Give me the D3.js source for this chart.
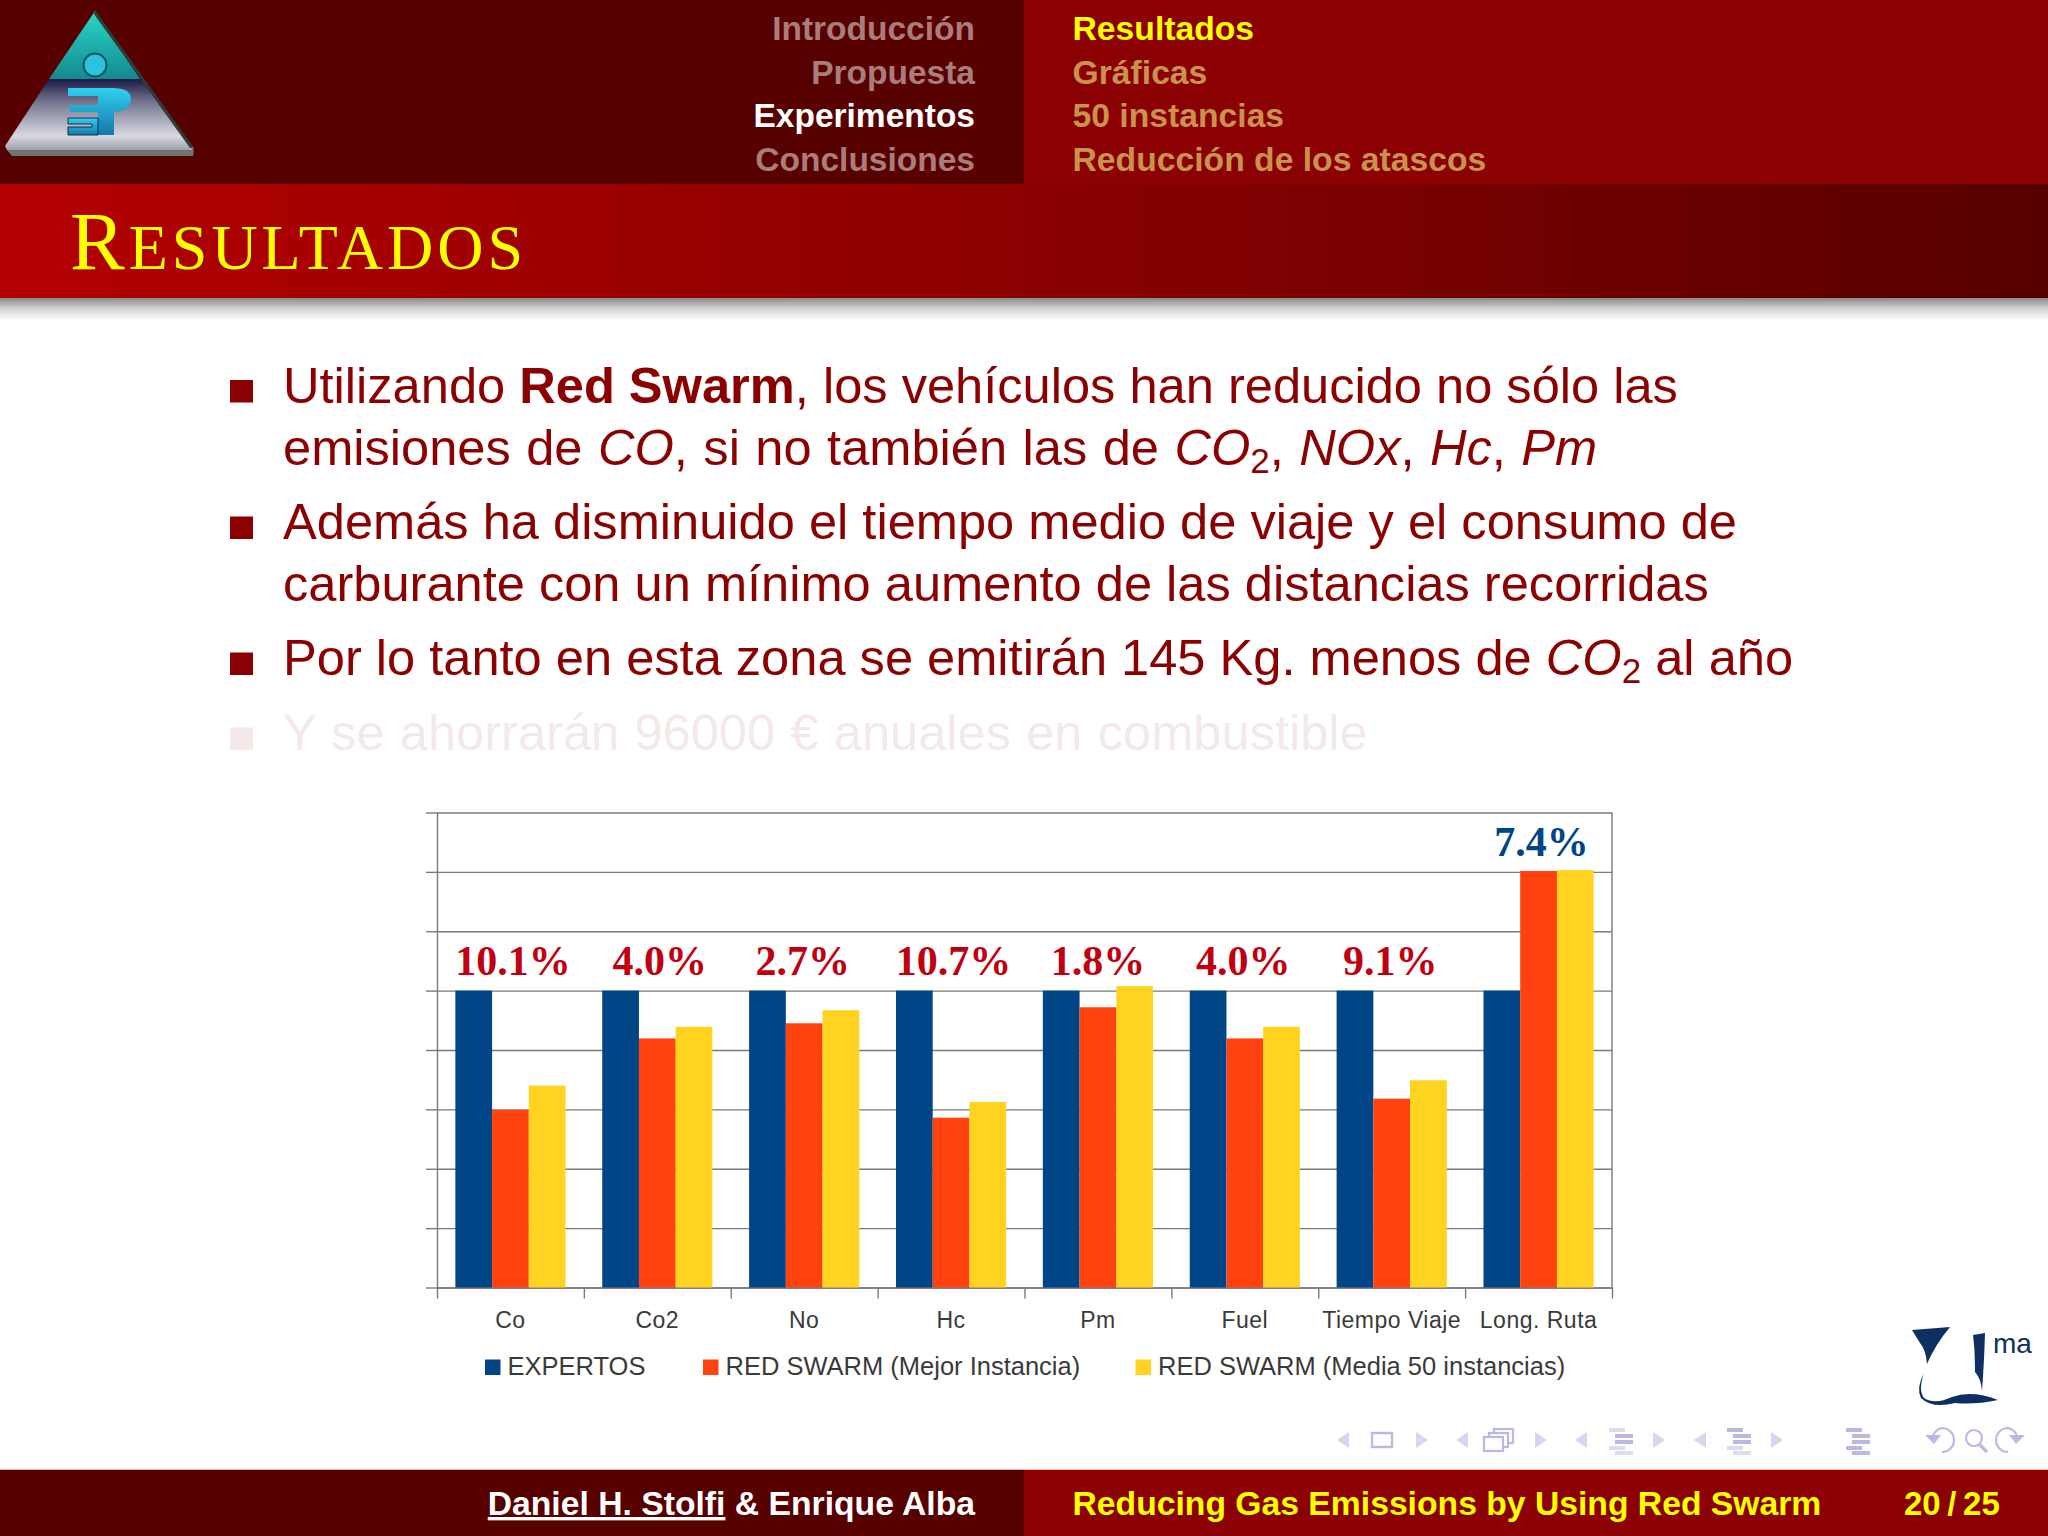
<!DOCTYPE html>
<html>
<head>
<meta charset="utf-8">
<title>Resultados</title>
<script src="https://cdn.jsdelivr.net/npm/d3@7"></script>
<style>
  html, body { margin: 0; padding: 0; background: #fff; }
  svg { display: block; }
  text { font-family: "Liberation Sans", sans-serif; }
</style>
</head>
<body>
<svg id="slide" width="2048" height="1536"></svg>
<script>
// chart data (EXPERTOS = 100)
const categories = ['Co', 'Co2', 'No', 'Hc', 'Pm', 'Fuel', 'Tiempo Viaje', 'Long. Ruta'];
const expertos = [100, 100, 100, 100, 100, 100, 100, 100];
const mejorInstancia = [59.8, 83.9, 89, 57.2, 94.4, 83.9, 63.6, 140.3];
const media50 = [68, 87.8, 93.4, 62.5, 101.5, 87.8, 69.8, 140.6];
const percentLabels = ['10.1%', '4.0%', '2.7%', '10.7%', '1.8%', '4.0%', '9.1%', '7.4%'];
const labelLevels = [100, 100, 100, 100, 100, 100, 100, 140];
const labelColors = ['#c00010', '#c00010', '#c00010', '#c00010', '#c00010', '#c00010', '#c00010', '#004586'];
const yTicks = [0, 20, 40, 60, 80, 100, 120, 140, 160];
const seriesNames = ['EXPERTOS', 'RED SWARM (Mejor Instancia)', 'RED SWARM (Media 50 instancias)'];
const seriesColors = ['#004586', '#ff420e', '#ffd320'];

// slide text
const navLeft = ['Introducción', 'Propuesta', 'Experimentos', 'Conclusiones'];
const navRight = ['Resultados', 'Gráficas', '50 instancias', 'Reducción de los atascos'];
const bodyLines = [
  { y: 402.5, bullet: true, parts: [['Utilizando '], ['Red Swarm', 'b'], [', los vehículos han reducido no sólo las']] },
  { y: 465, ws: 1.4, parts: [['emisiones de '], ['CO', 'i'], [', si no también las de '], ['CO', 'i'], ['2', 's'], [', '], ['NOx', 'i'], [', '], ['Hc', 'i'], [', '], ['Pm', 'i']] },
  { y: 539, bullet: true, parts: [['Además ha disminuido el tiempo medio de viaje y el consumo de']] },
  { y: 601, parts: [['carburante con un mínimo aumento de las distancias recorridas']] },
  { y: 675, bullet: true, parts: [['Por lo tanto en esta zona se emitirán 145 Kg. menos de '], ['CO', 'i'], ['2', 's'], [' al año']] },
  { y: 750, bullet: true, faded: true, ws: 1.2, parts: [['Y se ahorrarán 96000 € anuales en combustible']] }
];

const svg = d3.select('#slide');
const defs = svg.append('defs');

function linearGrad(id, x2, y2, stops) {
  const g = defs.append('linearGradient').attr('id', id)
    .attr('x1', 0).attr('y1', 0).attr('x2', x2).attr('y2', y2);
  stops.forEach((s) => g.append('stop').attr('offset', s[0]).attr('stop-color', s[1]));
}
linearGrad('titleBand', 1, 0, [[0, '#b40000'], [0.5, '#8b0000'], [1, '#570000']]);
linearGrad('shadow', 0, 1, [[0, '#8a8a8a'], [0.5, '#d4d4d4'], [1, '#ffffff']]);
linearGrad('logoTop', 0, 1, [[0, '#2ad6c8'], [1, '#128a90']]);
linearGrad('logoBottom', 0, 1, [[0, '#191945'], [0.3, '#6f6f8a'], [0.8, '#d8d8e2'], [1, '#a0a0ac']]);
linearGrad('logoGlyph', 0, 1, [[0, '#2fd0f0'], [1, '#1478a8']]);

// header and footer bands
function band(x, y, w, h, fill) {
  svg.append('rect').attr('x', x).attr('y', y).attr('width', w).attr('height', h).attr('fill', fill);
}
band(0, 0, 1024, 184, '#570000');
band(1024, 0, 1024, 184, '#8b0000');
band(0, 184, 2048, 114, 'url(#titleBand)');
band(0, 298, 2048, 22, 'url(#shadow)');
band(0, 1469, 2048, 1, '#e8b8b8');
band(0, 1470, 1024, 66, '#570000');
band(1024, 1470, 1024, 66, '#8b0000');

const navFont = 33.5;
svg.append('g').selectAll('text').data(navLeft).join('text')
  .attr('x', 975).attr('y', (d, i) => 40 + i * 43.6)
  .attr('text-anchor', 'end').attr('font-size', navFont).attr('font-weight', 'bold')
  .attr('fill', (d, i) => i === 2 ? '#ffffff' : '#ab7c7c')
  .text((d) => d);
svg.append('g').selectAll('text').data(navRight).join('text')
  .attr('x', 1072.5).attr('y', (d, i) => 40 + i * 43.6)
  .attr('font-size', 33.7).attr('font-weight', 'bold')
  .attr('fill', (d, i) => i === 0 ? '#ffff00' : '#c9934e')
  .text((d) => d);

// title in small caps
const title = svg.append('text').attr('x', 70).attr('y', 268.5)
  .attr('fill', '#ffff00').attr('letter-spacing', 4)
  .style('font-family', '"Liberation Serif", serif');
title.append('tspan').attr('font-size', 82).text('R');
title.append('tspan').attr('font-size', 64).text('ESULTADOS');

// footer text
const footLeft = svg.append('text').attr('x', 975).attr('y', 1515).attr('text-anchor', 'end')
  .attr('font-size', 33.7).attr('font-weight', 'bold').attr('fill', '#ffffff');
footLeft.append('tspan').attr('text-decoration', 'underline').text('Daniel H. Stolfi');
footLeft.append('tspan').text(' & Enrique Alba');
svg.append('text').attr('x', 1072.5).attr('y', 1515)
  .attr('font-size', 33.7).attr('font-weight', 'bold').attr('fill', '#ffff00')
  .text('Reducing Gas Emissions by Using Red Swarm');
svg.append('text').attr('x', 1904).attr('y', 1515)
  .attr('font-size', 33).attr('font-weight', 'bold').attr('fill', '#ffff00')
  .text('20\u2009/\u200925');

// bullets
const bodyColor = '#8b0000';
const body = svg.append('g');
bodyLines.forEach((line) => {
  const color = line.faded ? '#f5e8e8' : bodyColor;
  if (line.bullet) {
    body.append('rect').attr('x', 230).attr('y', line.y - 22.5)
      .attr('width', 23).attr('height', 22.5).attr('fill', color);
  }
  const t = body.append('text').attr('x', 283).attr('y', line.y)
    .attr('font-size', 50.6).attr('fill', color)
    .attr('word-spacing', line.ws || 0);
  let shift = 0;
  line.parts.forEach((p) => {
    const span = t.append('tspan').text(p[0]);
    if (p[1] === 'b') span.attr('font-weight', 'bold');
    if (p[1] === 'i') span.attr('font-style', 'italic');
    if (p[1] === 's') { span.attr('font-size', 35).attr('dy', 8); shift = 8; }
    else if (shift) { span.attr('dy', -shift); shift = 0; }
  });
});

// the chart
const chartLeft = 437, chartRight = 1612, chartTop = 812.5, chartBottom = 1287.5;
const chart = svg.append('g');

const x = d3.scaleBand().domain(categories).range([chartLeft, chartRight])
  .paddingInner(0.25).paddingOuter(0.125);
const xEdges = d3.scaleLinear().domain([0, categories.length]).range([chartLeft, chartRight]);
const xSeries = d3.scaleBand().domain(d3.range(seriesNames.length)).range([0, x.bandwidth()]);
const y = d3.scaleLinear().domain([0, 160]).range([chartBottom, chartTop]);

const axisColor = '#7a7a7a';

const grid = chart.append('g').attr('transform', `translate(${chartLeft},0)`)
  .call(d3.axisRight(y).tickValues(yTicks).tickSize(chartRight - chartLeft).tickFormat(''));
const yAxis = chart.append('g').attr('transform', `translate(${chartLeft},0)`)
  .call(d3.axisLeft(y).tickValues(yTicks).tickSizeInner(11).tickSizeOuter(0).tickFormat(''));
const xTicks = chart.append('g').attr('transform', `translate(0,${chartBottom})`)
  .call(d3.axisBottom(xEdges).tickValues(d3.range(categories.length + 1)).tickSizeInner(11).tickSizeOuter(0).tickFormat(''));
[grid, yAxis, xTicks].forEach((a) => {
  a.selectAll('line').attr('stroke', axisColor).attr('stroke-width', 1.4);
  a.selectAll('.domain').attr('stroke', axisColor).attr('stroke-width', 1.4);
});
grid.select('.domain').remove();
chart.append('line').attr('x1', chartRight).attr('x2', chartRight)
  .attr('y1', y(160)).attr('y2', y(0)).attr('stroke', axisColor).attr('stroke-width', 1.4);

const seriesValues = [expertos, mejorInstancia, media50];
seriesValues.forEach((values, s) => {
  chart.append('g').selectAll('rect').data(values).join('rect')
    .attr('x', (d, i) => x(categories[i]) + xSeries(s))
    .attr('width', xSeries.bandwidth())
    .attr('y', (d) => y(d))
    .attr('height', (d) => y(0) - y(d))
    .attr('fill', seriesColors[s]);
});

const xAxis = chart.append('g').attr('transform', `translate(0,${chartBottom})`)
  .call(d3.axisBottom(x).tickSize(0).tickPadding(0));
xAxis.select('.domain').remove();
xAxis.selectAll('text')
  .attr('y', 40).attr('dy', 0)
  .attr('font-size', 23).attr('letter-spacing', 0.5).attr('fill', '#3a3a3a')
  .style('font-family', '"Liberation Sans", sans-serif');

// the labels were placed by hand on the slide, so they sit a little off centre
const labelNudge = [2.5, 2.5, -1.5, 2.5, 0, -1.5, -1.5, 3];
chart.append('g').selectAll('text').data(percentLabels).join('text')
  .attr('x', (d, i) => x(categories[i]) + x.bandwidth() / 2 + labelNudge[i])
  .attr('y', (d, i) => y(labelLevels[i]) - 15.5)
  .attr('text-anchor', 'middle').attr('font-size', 42).attr('font-weight', 'bold')
  .attr('fill', (d, i) => labelColors[i])
  .style('font-family', '"Liberation Serif", serif')
  .text((d) => d);

// legend
const legendX = [485, 703, 1135.5];
const legend = chart.append('g').selectAll('g').data(seriesNames).join('g')
  .attr('transform', (d, i) => `translate(${legendX[i]},1359.5)`);
legend.append('rect').attr('width', 15.5).attr('height', 15.5).attr('fill', (d, i) => seriesColors[i]);
legend.append('text').attr('x', 22.5).attr('y', 15.5)
  .attr('font-size', 25.5).attr('fill', '#3a3a3a').text((d) => d);

// ITI triangle logo, top left
const logo = svg.append('g');
logo.append('path').attr('d', 'M7 150 L194 150 L193 156 L12 156 Z').attr('fill', '#6f7472');
logo.append('path').attr('d', 'M95 11 L140 79 L49 79 Z').attr('fill', 'url(#logoTop)');
logo.append('path').attr('d', 'M49 79 L140 79 L194 148 L192 150 L7 150 L5 146 Z').attr('fill', 'url(#logoBottom)');
logo.append('path').attr('d', 'M95 10 L194 148 L190 148 L94 14 Z').attr('fill', '#2f3a3a');
logo.append('circle').attr('cx', 95).attr('cy', 65).attr('r', 11.5).attr('fill', '#2cc4dc').attr('stroke', '#0d5560').attr('stroke-width', 2);
// E and P glyph
logo.append('path').attr('d', 'M68 88 H112 Q131 88 131 99 Q131 111 114 112 V135 H98 V112 H70 V105 H98 V96 H68 Z').attr('fill', 'url(#logoGlyph)');
logo.append('path').attr('d', 'M68 118 H98 V135 H68 V127 H92 V124 H68 Z').attr('fill', 'url(#logoGlyph)').attr('stroke', '#0d3048').attr('stroke-width', 1);

// UMA logo, bottom right
const umaColor = '#0f2f63';
const uma = svg.append('g').attr('fill', umaColor);
uma.append('path').attr('d', 'M1912 1330 L1950 1327 Q1935 1345 1927 1364 Q1926 1350 1920 1343 Q1915 1335 1912 1330 Z');
uma.append('path').attr('d', 'M1973 1335 L1985 1333 Q1984 1365 1982 1391 Q1981 1378 1975 1372 Q1975 1350 1973 1335 Z');
uma.append('path').attr('d', 'M1924 1373 Q1918 1390 1924 1398 Q1935 1405 1952 1397 Q1972 1390 1998 1400 Q1975 1405 1955 1403 Q1932 1409 1921 1398 Q1916 1388 1924 1373 Z');
svg.append('text').attr('x', 1993).attr('y', 1353).attr('font-size', 28).attr('fill', umaColor).text('ma');

// beamer navigation symbols
const nav = svg.append('g');
const navPale = '#d6d6ee', navMid = '#b9b9e2';
const arrowPairs = [[1343, 1422], [1462, 1541], [1581, 1659], [1700, 1777]];
arrowPairs.forEach((p) => {
  nav.append('path').attr('d', `M${p[0] - 6} 1440 L${p[0] + 6} 1432 V1448 Z`).attr('fill', navPale);
  nav.append('path').attr('d', `M${p[1] + 6} 1440 L${p[1] - 6} 1432 V1448 Z`).attr('fill', navPale);
});
nav.append('rect').attr('x', 1372).attr('y', 1433).attr('width', 20).attr('height', 14)
  .attr('fill', 'none').attr('stroke', navMid).attr('stroke-width', 2.4);
[[1494, 1429], [1489, 1433], [1484, 1437]].forEach((o) => {
  nav.append('rect').attr('x', o[0]).attr('y', o[1]).attr('width', 19).attr('height', 14)
    .attr('fill', '#fff').attr('stroke', navMid).attr('stroke-width', 2.2);
});
const listRows = [[0, 16, 1428], [6, 18, 1434], [6, 18, 1440], [0, 16, 1446], [6, 18, 1451]];
const listIcons = [[1609, [0.5, 1, 1, 0.5, 0.5]], [1727, [1, 1, 1, 0.5, 0.5]], [1846, [1, 1, 1, 1, 1]]];
listIcons.forEach((icon) => {
  listRows.forEach((r, i) => {
    nav.append('rect').attr('x', icon[0] + r[0]).attr('y', r[2])
      .attr('width', r[1]).attr('height', 4)
      .attr('fill', navMid).attr('opacity', icon[1][i]);
  });
});
nav.append('path').attr('d', 'M1933 1436 A12 12 0 0 1 1942 1428 A12 12 0 0 1 1942 1452').attr('fill', 'none').attr('stroke', navMid).attr('stroke-width', 2.2);
nav.append('path').attr('d', 'M1925 1435 L1941 1435 L1934 1444 Z').attr('fill', navMid);
nav.append('circle').attr('cx', 1974).attr('cy', 1438).attr('r', 8).attr('fill', 'none').attr('stroke', navMid).attr('stroke-width', 2.2);
nav.append('line').attr('x1', 1979).attr('y1', 1444).attr('x2', 1987).attr('y2', 1452).attr('stroke', navMid).attr('stroke-width', 3.2);
nav.append('path').attr('d', 'M2017 1436 A12 12 0 0 0 2008 1428 A12 12 0 0 0 2008 1452').attr('fill', 'none').attr('stroke', navMid).attr('stroke-width', 2.2);
nav.append('path').attr('d', 'M2025 1435 L2009 1435 L2016 1444 Z').attr('fill', navMid);
</script>
</body>
</html>
